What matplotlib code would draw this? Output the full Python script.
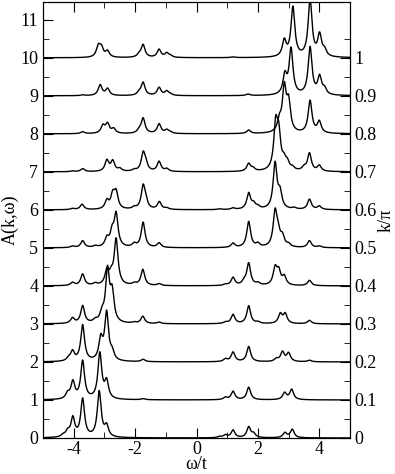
import matplotlib.pyplot as plt
import numpy as np

plt.rcParams['font.family'] = ['Liberation Serif', 'DejaVu Serif']
plt.rcParams['axes.unicode_minus'] = False

# k/pi labels for the stacked curves (offset 0..10)
k_labels = ["0", "0.1", "0.2", "0.3", "0.4", "0.5", "0.6", "0.7", "0.8", "0.9", "1"]

# peak positions (omega/t) and peak heights, one list per k
peak_pos = [
    [-4.35, -4.2, -4.03, -3.71, -3.17, -2.93, 0.75, 0.94, 1.19, 1.70, 1.86, 2.88, 3.12],
    [-4.2, -4.03, -3.71, -3.15, -2.93, -1.74, 0.94, 1.19, 1.70, 2.87, 3.10],
    [-4.17, -4.04, -3.71, -3.12, -2.93, -2.75, -1.74, 0.94, 1.19, 1.70, 2.6, 2.8, 3.0, 3.68],
    [-4.04, -3.71, -3.3, -3.08, -2.9, -2.75, -2.03, -1.75, -1.22, 0.94, 1.19, 1.70, 2.0, 2.73, 2.89, 3.68],
    [-4.04, -3.71, -3.3, -2.92, -2.78, -2.62, -2.03, -1.75, -1.22, 0.94, 1.19, 1.55, 1.70, 2.0, 2.56, 2.68, 2.86, 3.68],
    [-4.04, -3.71, -3.3, -2.92, -2.75, -2.62, -2.03, -1.74, -1.22, 1.19, 1.70, 2.0, 2.56, 2.66, 2.8, 3.0, 3.68, 4.0],
    [-4.04, -3.73, -2.92, -2.73, -2.62, -2.03, -1.74, -1.66, -1.21, -0.97, 0.75, 1.19, 1.70, 1.86, 2.0, 2.56, 2.72, 3.18, 3.68, 4.0],
    [-4.04, -3.71, -2.92, -2.73, -2.5, -2.03, -1.74, -1.66, -1.22, -0.97, 1.70, 1.84, 2.58, 2.68, 2.85, 2.96, 3.13, 3.5, 3.68, 4.0],
    [-3.71, -3.05, -2.9, -2.7, -1.87, -1.74, -1.22, -0.97, -0.85, 1.70, 2.7, 2.86, 3.0, 3.70, 4.0],
    [-3.71, -3.14, -2.9, -1.87, -1.74, -1.22, -0.97, -0.85, 1.68, 2.88, 3.08, 3.70, 4.01, 4.17],
    [-3.2, -3.1, -2.9, -1.87, -1.74, -1.22, -0.97, -0.85, 1.19, 2.86, 3.14, 3.70, 4.01, 4.17],
]
peak_amp = [
    [0.05, 0.14, 0.5, 1.0, 1.2, 0.28, 0.03, 0.07, 0.2, 0.28, 0.1, 0.13, 0.22],
    [0.14, 0.45, 1.0, 1.2, 0.45, 0.03, 0.06, 0.22, 0.33, 0.18, 0.27],
    [0.07, 0.25, 0.95, 0.55, 1.25, 0.2, 0.06, 0.07, 0.25, 0.4, 0.07, 0.25, 0.22, 0.04],
    [0.14, 0.46, 0.07, 0.22, 1.35, 0.75, 0.03, 0.19, 0.04, 0.04, 0.24, 0.47, 0.04, 0.25, 0.25, 0.09],
    [0.08, 0.3, 0.05, 0.36, 0.22, 1.2, 0.05, 0.42, 0.05, 0.03, 0.21, 0.09, 0.58, 0.06, 0.44, 0.34, 0.22, 0.14],
    [0.04, 0.18, 0.04, 0.22, 0.36, 0.85, 0.09, 0.66, 0.12, 0.11, 0.68, 0.09, 0.9, 0.32, 0.25, 0.07, 0.18, 0.04],
    [0.03, 0.14, 0.22, 0.36, 0.42, 0.05, 0.58, 0.18, 0.2, 0.04, 0.02, 0.04, 0.42, 0.13, 0.06, 1.2, 0.4, 0.04, 0.27, 0.09],
    [0.02, 0.08, 0.29, 0.27, 0.07, 0.04, 0.45, 0.18, 0.26, 0.07, 0.2, 0.07, 1.15, 0.85, 0.22, 0.18, 0.07, 0.09, 0.47, 0.15],
    [0.05, 0.2, 0.25, 0.12, 0.07, 0.4, 0.25, 0.09, 0.03, 0.09, 0.28, 1.15, 0.75, 0.85, 0.3],
    [0.02, 0.28, 0.18, 0.07, 0.34, 0.21, 0.11, 0.03, 0.04, 0.5, 1.2, 1.25, 0.46, 0.15],
    [0.28, 0.23, 0.16, 0.07, 0.33, 0.21, 0.11, 0.04, 0.02, 0.42, 1.3, 1.5, 0.56, 0.16],
]
gamma = 0.075

omega = np.linspace(-5, 5, 4001)

fig = plt.figure(figsize=(3.95, 4.74), dpi=100)
ax = fig.add_axes([0.109, 0.076, 0.777, 0.920])

for i, (pos, amp) in enumerate(zip(peak_pos, peak_amp)):
    spec = np.zeros_like(omega)
    for p, a in zip(pos, amp):
        spec += a * gamma**2 / ((omega - p)**2 + gamma**2)
    ax.plot(omega, spec + i, color='black', lw=1.0)

ax.set_xlim(-5, 5)
ax.set_ylim(0, 11.47)
ax.set_xticks([-4, -2, 0, 2, 4])
ax.set_xticks([-5, -3, -1, 1, 3, 5], minor=True)
ax.set_yticks(range(12))
ax.set_yticks(np.arange(0.5, 11.5, 1), minor=True)
ax.tick_params(which='both', direction='in', top=True, labelsize=13)
ax.tick_params(axis='x', pad=2)
ax.tick_params(which='major', length=7)
ax.tick_params(which='minor', length=4)
ax.set_xlabel('ω/t', fontsize=13, labelpad=-1)
ax.set_ylabel('A(k,ω)', fontsize=13, labelpad=1)

ax2 = ax.twinx()
ax2.set_ylim(ax.get_ylim())
ax2.set_yticks(range(len(k_labels)))
ax2.set_yticklabels(k_labels)
ax2.set_yticks(np.arange(0.5, 11.5, 1), minor=True)
ax2.tick_params(which='both', direction='in', labelsize=13, pad=3)
ax2.tick_params(which='major', length=7)
ax2.tick_params(which='minor', length=4)
ax2.set_ylabel('k/π', fontsize=13, labelpad=1)

fig.savefig('out.png', dpi=100)
